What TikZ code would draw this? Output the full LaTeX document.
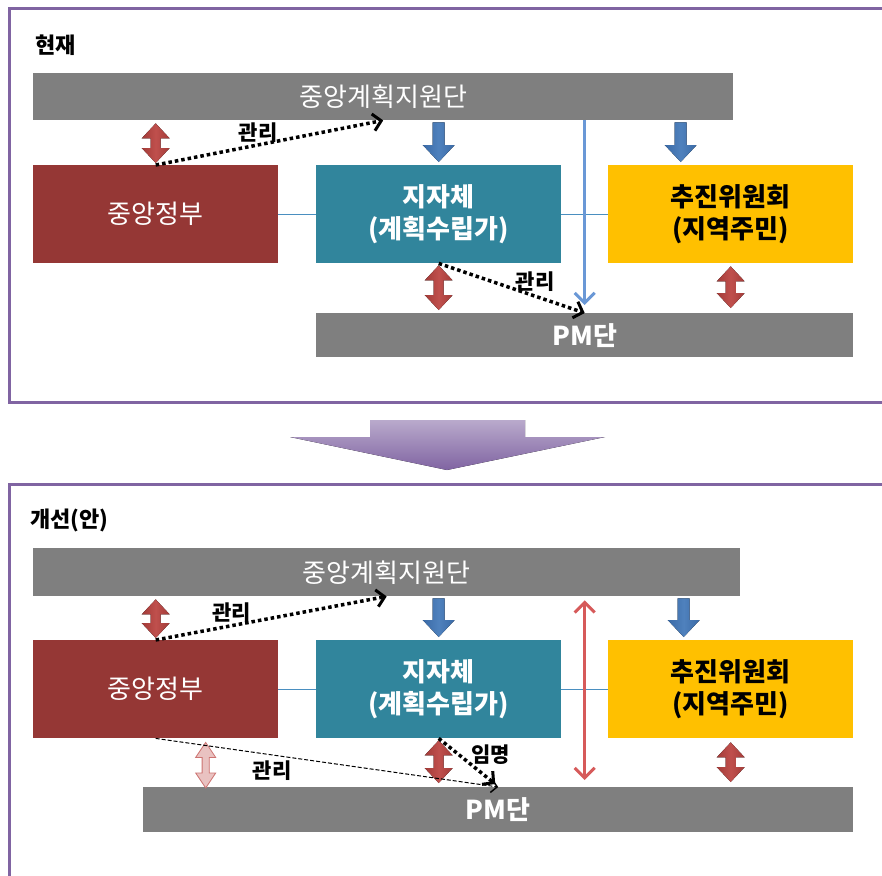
\documentclass[tikz,border=0pt]{standalone}
\usepackage{fontspec}
\setmainfont{Noto Sans CJK KR}
\usetikzlibrary{arrows.meta,calc,positioning}
\definecolor{planGray}{HTML}{7F7F7F}
\definecolor{govRed}{HTML}{953735}
\definecolor{localTeal}{HTML}{31859C}
\definecolor{cmteGold}{HTML}{FFC000}
\definecolor{frameViolet}{HTML}{8064A2}
\definecolor{fatRed}{HTML}{C0504D}
\definecolor{fatRedDark}{HTML}{A23B38}
\definecolor{fatBlue}{HTML}{4F81BD}
\definecolor{fatBlueDark}{HTML}{3A6AA6}
\definecolor{lineBlue}{HTML}{6A98D6}
\definecolor{lineRed}{HTML}{D65A5A}
\definecolor{linkBlue}{HTML}{4A8FC0}
\newcommand{\BoxFont}{\fontsize{26}{32}\selectfont}
\newcommand{\BoxBold}{\BoxFont\bfseries}
\newcommand{\TagFont}{\fontsize{21}{24}\selectfont\bfseries}
\newcommand{\TitleFont}{\fontsize{22}{26}\selectfont\bfseries}
% fat double arrow between two points (x taken from the first)
\newcommand{\FatDouble}[4][14pt]{%
  \fill[#2] let \p1=#3, \p2=#4 in
    (\x1,\y1) -- (\x1+#1,\y1-15pt) -- (\x1+0.36*#1,\y1-15pt) -- (\x1+0.36*#1,\y2+15pt)
    -- (\x1+#1,\y2+15pt) -- (\x1,\y2) -- (\x1-#1,\y2+15pt) -- (\x1-0.36*#1,\y2+15pt)
    -- (\x1-0.36*#1,\y1-15pt) -- (\x1-#1,\y1-15pt) -- cycle;}
% fat single arrow pointing down
\newcommand{\FatDown}[3]{%
  \fill[#1] let \p1=#2, \p2=#3 in
    (\x1-6pt,\y1) -- (\x1+6pt,\y1) -- (\x1+6pt,\y2+17pt) -- (\x1+16pt,\y2+17pt)
    -- (\x1,\y2) -- (\x1-16pt,\y2+17pt) -- (\x1-6pt,\y2+17pt) -- cycle;}
\tikzset{
  unit box/.style={
    minimum width=245, minimum height=98, inner sep=0pt,
    anchor=north west, align=center, font=\BoxFont
  },
  govbox/.style={unit box, fill=govRed, text=white},
  localbox/.style={unit box, fill=localTeal, text=white, font=\BoxBold},
  cmtebox/.style={unit box, fill=cmteGold, text=black, font=\BoxBold},
  grey bar/.style={
    fill=planGray, text=white, inner sep=0pt, anchor=north west, font=\BoxFont
  },
  red fat/.style={left color=fatRedDark, right color=fatRedDark, middle color=fatRed},
  pale fat/.style={fill=fatRed!35, draw=fatRed!80, line width=0.8pt},
  blue fat/.style={left color=fatBlueDark, right color=fatBlueDark, middle color=fatBlue},
}

\begin{document}
\begin{tikzpicture}[x=1pt,y=-1pt,
  frame/.style={draw=frameViolet, line width=3pt},
  title/.style={font=\TitleFont, anchor=west, inner sep=0pt},
  tag/.style={font=\TagFont, text=black, inner sep=1pt},
  link/.style={draw=linkBlue, line width=1pt},
  mgmt/.style={
    -{Straight Barb[length=8pt,width=17pt,line width=3pt]},
    line width=3.5pt, dash pattern=on 3.5pt off 3pt, black
  },
  mgmt thin/.style={
    -{Straight Barb[length=6pt,width=13pt,line width=1.5pt]},
    line width=1pt, dash pattern=on 4pt off 2pt, black
  },
  long blue/.style={-{Straight Barb[length=10pt,width=20pt]}, line width=3pt, lineBlue},
  long red/.style={{Straight Barb[length=10pt,width=20pt]}-{Straight Barb[length=10pt,width=20pt]},
    line width=3pt, lineRed},
  big arrow/.style={top color=frameViolet!55!white, bottom color=frameViolet}]

  \useasboundingbox (0,0) rectangle (882,875);

  % ===================== Panel: current =====================
  \draw[frame] (9,9) rectangle (900,402);
  \node[title] (titleA) at (35,45) {현재};

  \node[grey bar, minimum width=700, minimum height=47] (planA) at (33,73) {중앙계획지원단};
  \node[govbox] (govA) at (33,165) {중앙정부};
  \node[localbox] (localA) at (316,165) {지자체\\(계획수립가)};
  \node[cmtebox] (cmteA) at (608,165) {추진위원회\\(지역주민)};
  \node[grey bar, font=\BoxBold, minimum width=537, minimum height=44] (pmA) at (316,313) {PM단};

  \draw[link] (govA.east) -- (localA.west);
  \draw[link] (localA.east) -- (cmteA.west);

  \FatDouble{red fat}{($(planA.south -| govA.north)+(0,3)$)}{($(govA.north)+(0,-2)$)}
  \FatDown{blue fat}{($(planA.south -| localA.north)+(0,2)$)}{($(localA.north)+(0,-3)$)}
  \FatDown{blue fat}{($(planA.south -| cmteA.north)+(-50,2)$)}{($(cmteA.north)+(-50,-3)$)}
  \FatDouble{red fat}{($(localA.south)+(0,2)$)}{($(localA.south |- pmA.north)+(0,-3)$)}
  \FatDouble{red fat}{($(cmteA.south)+(0,3)$)}{($(cmteA.south |- pmA.north)+(0,-5)$)}

  \coordinate (gapA) at ($(localA.east)!.5!(cmteA.west)$);
  \draw[long blue] (planA.south -| gapA) -- ($(pmA.north -| gapA)+(0,-8)$);

  \draw[mgmt] (govA.north) -- node[tag, pos=.45, above] {관리} (planA.south);
  \draw[mgmt] (localA.south) -- node[tag, pos=.66, above=2pt] {관리} (pmA.north);

  % big transition arrow
  \fill[big arrow] (370,420) -- (525,420) -- (525,437) -- (605,437) -- (447,470)
    -- (290,437) -- (370,437) -- cycle;

  % ===================== Panel: improved =====================
  \draw[frame] (9,900) -- (9,484) -- (900,484);
  \node[title] (titleB) at (30,520) {개선(안)};

  \node[grey bar, minimum width=707, minimum height=48] (planB) at (33,548) {중앙계획지원단};
  \node[govbox] (govB) at (33,640) {중앙정부};
  \node[localbox] (localB) at (316,640) {지자체\\(계획수립가)};
  \node[cmtebox] (cmteB) at (608,640) {추진위원회\\(지역주민)};
  \node[grey bar, font=\BoxBold, minimum width=710, minimum height=45] (pmB) at (143,787) {PM단};

  \draw[link] (govB.east) -- (localB.west);
  \draw[link] (localB.east) -- (cmteB.west);

  \FatDouble{red fat}{($(planB.south -| govB.north)+(0,3)$)}{($(govB.north)+(0,-2)$)}
  \FatDown{blue fat}{($(planB.south -| localB.north)+(0,2)$)}{($(localB.north)+(0,-3)$)}
  \FatDown{blue fat}{($(planB.south -| cmteB.north)+(-47,2)$)}{($(cmteB.north)+(-47,-3)$)}
  \FatDouble[10pt]{pale fat}{($(govB.south)+(50,4)$)}{($(govB.south |- pmB.north)+(50,1)$)}
  \FatDouble{red fat}{($(localB.south)+(0,2)$)}{($(localB.south |- pmB.north)+(0,-4)$)}
  \FatDouble{red fat}{($(cmteB.south)+(0,4)$)}{($(cmteB.south |- pmB.north)+(0,-5)$)}

  \coordinate (gapB) at ($(localB.east)!.5!(cmteB.west)$);
  \draw[long red] ($(planB.south -| gapB)+(0,4)$) -- ($(pmB.north -| gapB)+(0,-7)$);

  \draw[mgmt] (govB.north) -- node[tag, pos=.33, above] {관리} (planB.south);
  \draw[mgmt thin] (govB.south) -- node[tag, pos=.34, below=4pt] {관리} (pmB.north);
  \draw[mgmt] (localB.south) -- node[tag, pos=.35, right=10pt] {임명} ($(pmB.north)+(-3,-3)$);
\end{tikzpicture}
\end{document}
